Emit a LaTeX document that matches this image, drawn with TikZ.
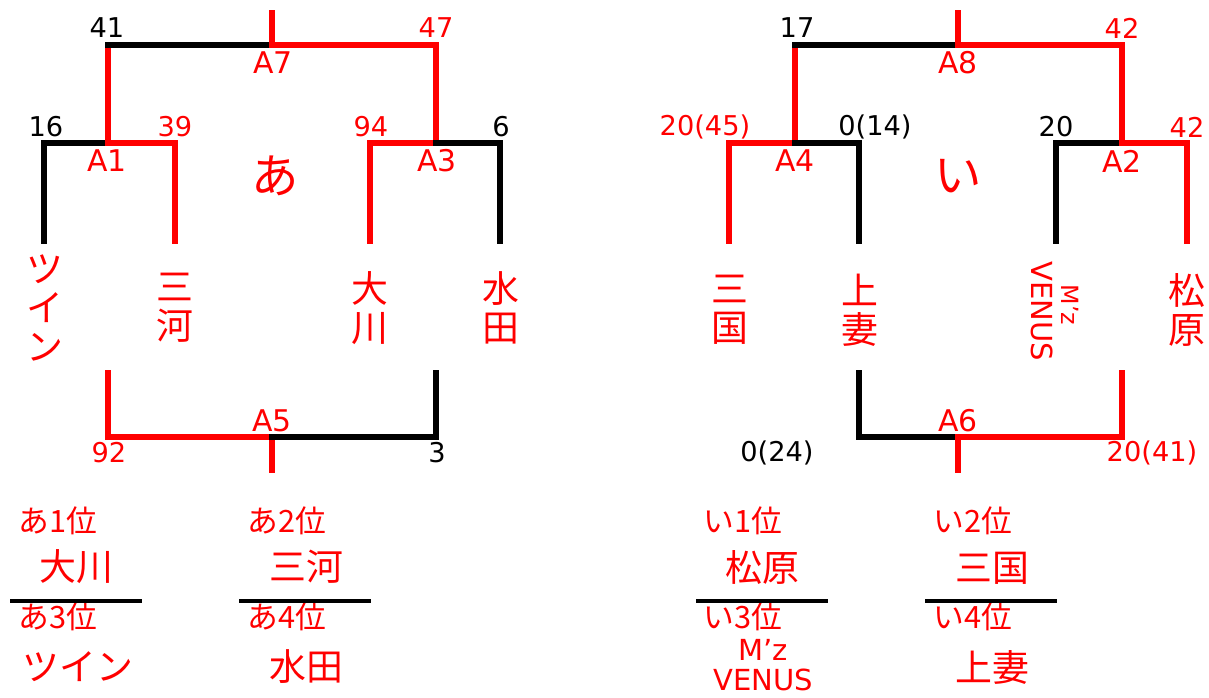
\documentclass[tikz,border=0pt]{standalone}
\usepackage{fontspec}
\setmainfont{Noto Sans CJK JP}
\newfontfamily\latinfont{DejaVu Sans}

\tikzset{
  win/.style={draw=red, line width=2.9pt, line cap=rect},
  lose/.style={draw=black, line width=2.9pt, line cap=rect},
  score/.style={inner sep=0pt, font=\latinfont\fontsize{15.5}{15.5}\selectfont},
  match/.style={red, inner sep=0pt, font=\latinfont\fontsize{17}{17}\selectfont},
  team/.style={red, inner sep=0pt, align=center, font=\fontsize{21}{22}\selectfont},
  block/.style={red, inner sep=0pt, font=\fontsize{27}{27}\selectfont},
  rank/.style={red, inner sep=0pt, font=\fontsize{17.5}{17.5}\selectfont},
  rankteam/.style={red, inner sep=0pt, align=center, font=\fontsize{21}{21}\selectfont},
  sep/.style={draw=black, line width=2pt}
}

\begin{document}
\begin{tikzpicture}[x=0.02cm, y=-0.02cm]
\useasboundingbox (0,0) rectangle (1209,697);

% block あ
\coordinate (a7t) at (272,13);
\coordinate (a7) at (272,45);
\coordinate (a7l) at (108,45);
\coordinate (a7r) at (436,45);
\coordinate (a1) at (108,143);
\coordinate (a1l) at (44,143);
\coordinate (a1r) at (175,143);
\coordinate (a1lb) at (44,241);
\coordinate (a1rb) at (175,241);
\coordinate (a3) at (436,143);
\coordinate (a3l) at (370,143);
\coordinate (a3r) at (500,143);
\coordinate (a3lb) at (370,241);
\coordinate (a3rb) at (500,241);
\coordinate (a5) at (272,437);
\coordinate (a5l) at (108,437);
\coordinate (a5r) at (436,437);
\coordinate (a5lt) at (108,373);
\coordinate (a5rt) at (436,373);
\coordinate (a5b) at (272,470);

\draw[win] (a7l) -- (a1);
\draw[win] (a7r) -- (a3);
\draw[win] (a7t) -- (a7);
\draw[lose] (a7) -- (a7l);
\draw[win] (a7) -- (a7r);
\draw[lose] (a1lb) -- (a1l) -- (a1);
\draw[win] (a1) -- (a1r) -- (a1rb);
\draw[win] (a3lb) -- (a3l) -- (a3);
\draw[lose] (a3) -- (a3r) -- (a3rb);
\draw[win] (a5) -- (a5b);
\draw[win] (a5lt) -- (a5l) -- (a5);
\draw[lose] (a5) -- (a5r) -- (a5rt);

\node[score] (s41) at (107,28) {41};
\node[score, red] (s47) at (436,28) {47};
\node[match] (m7) at (273,63) {A7};
\node[score] (s16) at (46,127) {16};
\node[score, red] (s39) at (175,127) {39};
\node[score, red] (s94) at (371,127) {94};
\node[score] (s6) at (501,127) {6};
\node[match] (m1) at (107,161) {A1};
\node[match] (m3) at (437,161) {A3};
\node[block] (ba) at (275,176) {あ};
\node[team] (tw) at (45,308) {ツ\\イ\\ン};
\node[team] (mk) at (175,308) {三\\河};
\node[team] (ok) at (370,308) {大\\川};
\node[team] (md) at (501,308) {水\\田};
\node[match] (m5) at (272,421) {A5};
\node[score, red] (s92) at (109,453) {92};
\node[score] (s3) at (437,453) {3};

% block い
\coordinate (a8t) at (958,13);
\coordinate (a8) at (958,45);
\coordinate (a8l) at (795,45);
\coordinate (a8r) at (1122,45);
\coordinate (a4) at (795,143);
\coordinate (a4l) at (729,143);
\coordinate (a4r) at (859,143);
\coordinate (a4lb) at (729,241);
\coordinate (a4rb) at (859,241);
\coordinate (a2) at (1122,143);
\coordinate (a2l) at (1056,143);
\coordinate (a2r) at (1187,143);
\coordinate (a2lb) at (1056,241);
\coordinate (a2rb) at (1187,241);
\coordinate (a6) at (958,437);
\coordinate (a6l) at (859,437);
\coordinate (a6r) at (1122,437);
\coordinate (a6lt) at (859,373);
\coordinate (a6rt) at (1122,373);
\coordinate (a6b) at (958,470);

\draw[win] (a8l) -- (a4);
\draw[win] (a8r) -- (a2);
\draw[win] (a8t) -- (a8);
\draw[lose] (a8) -- (a8l);
\draw[win] (a8) -- (a8r);
\draw[win] (a4lb) -- (a4l) -- (a4);
\draw[lose] (a4) -- (a4r) -- (a4rb);
\draw[lose] (a2lb) -- (a2l) -- (a2);
\draw[win] (a2) -- (a2r) -- (a2rb);
\draw[win] (a6) -- (a6b);
\draw[lose] (a6lt) -- (a6l) -- (a6);
\draw[win] (a6) -- (a6r) -- (a6rt);

\node[score] (s17) at (797,28) {17};
\node[score, red] (s42t) at (1122,28) {42};
\node[match] (m8) at (958,63) {A8};
\node[score, red] (s2045) at (705,127) {20(45)};
\node[score] (s014) at (875,127) {0(14)};
\node[score] (s20) at (1056,127) {20};
\node[score, red] (s42) at (1187,127) {42};
\node[match] (m4) at (795,161) {A4};
\node[match] (m2) at (1122,161) {A2};
\node[block] (bi) at (958,176) {い};
\node[team] (mg) at (730,310) {三\\国};
\node[team] (kt) at (860,310) {上\\妻};
\node[red, inner sep=0pt, rotate=-90, font=\latinfont\fontsize{13.5}{13.5}\selectfont] (mz) at (1070,305) {M’z};
\node[red, inner sep=0pt, rotate=-90, font=\latinfont\fontsize{16.5}{16.5}\selectfont] (vn) at (1042,311) {VENUS};
\node[team] (mb) at (1187,310) {松\\原};
\node[match] (m6) at (958,421) {A6};
\node[score] (s024) at (777,453) {0(24)};
\node[score, red] (s2041) at (1152,453) {20(41)};

% ranking
\node[rank] (ra1) at (58,521) {あ1位};
\node[rankteam] (ta1) at (76,567) {大川};
\node[rank] (ra3) at (58,617) {あ3位};
\node[rankteam] (ta3) at (78,667) {ツイン};
\coordinate (la1) at (10,601);
\coordinate (la2) at (142,601);
\draw[sep] (la1) -- (la2);

\node[rank] (ra2) at (287,521) {あ2位};
\node[rankteam] (ta2) at (306,567) {三河};
\node[rank] (ra4) at (287,617) {あ4位};
\node[rankteam] (ta4) at (306,667) {水田};
\coordinate (lb1) at (239,601);
\coordinate (lb2) at (371,601);
\draw[sep] (lb1) -- (lb2);

\node[rank] (ri1) at (743,521) {い1位};
\node[rankteam] (ti1) at (762,568) {松原};
\node[rank] (ri3) at (743,617) {い3位};
\node[red, inner sep=0pt, align=center, font=\latinfont\fontsize{16.5}{17.5}\selectfont] (ti3) at (763,665) {M’z\\VENUS};
\coordinate (lc1) at (696,601);
\coordinate (lc2) at (828,601);
\draw[sep] (lc1) -- (lc2);

\node[rank] (ri2) at (973,521) {い2位};
\node[rankteam] (ti2) at (992,568) {三国};
\node[rank] (ri4) at (973,617) {い4位};
\node[rankteam] (ti4) at (992,667) {上妻};
\coordinate (ld1) at (925,601);
\coordinate (ld2) at (1057,601);
\draw[sep] (ld1) -- (ld2);

\end{tikzpicture}
\end{document}
